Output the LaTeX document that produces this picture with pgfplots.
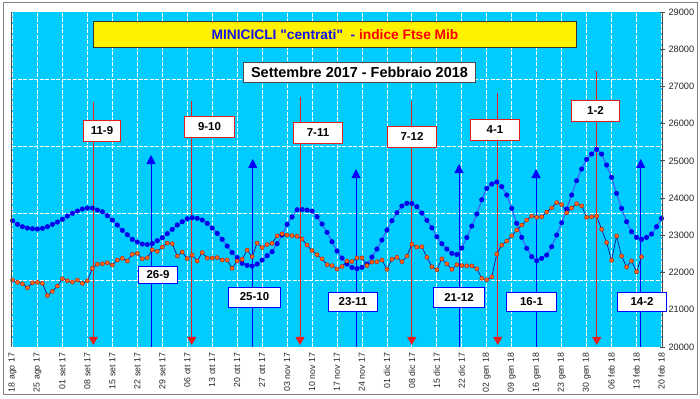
\documentclass[border=0pt]{standalone}
\usepackage{pgfplots}
\pgfplotsset{compat=1.18}
\usepackage{pgfplotstable}
\usetikzlibrary{arrows.meta}
\usepackage{fontspec}
\setmainfont{Liberation Sans}[Ligatures=TeXOff]
\definecolor{cyanbg}{RGB}{0,204,255}
\definecolor{blueline}{RGB}{60,100,255}
\definecolor{bluemark}{RGB}{0,0,235}
\definecolor{redfill}{RGB}{255,110,20}
\definecolor{reddraw}{RGB}{200,30,0}
\definecolor{navyline}{RGB}{20,20,140}
\definecolor{annored}{RGB}{230,30,30}
\definecolor{annoblue}{RGB}{0,0,255}
\definecolor{titleblue}{RGB}{20,20,230}

\pgfplotstableread{
i v
0 23392
1 23296
2 23231
3 23196
4 23177
5 23169
6 23188
7 23231
8 23296
9 23357
10 23430
11 23519
12 23591
13 23653
14 23707
15 23733
16 23733
17 23680
18 23634
19 23527
20 23411
21 23277
22 23134
23 23016
24 22892
25 22820
26 22766
27 22753
28 22780
29 22855
30 22935
31 23043
32 23161
33 23277
34 23365
35 23446
36 23473
37 23457
38 23411
39 23322
40 23196
41 23054
42 22892
43 22712
44 22538
45 22403
46 22247
47 22194
48 22175
49 22229
50 22336
51 22452
52 22559
53 22774
54 23008
55 23295
56 23492
57 23688
58 23695
59 23680
60 23653
61 23500
62 23304
63 23081
64 22828
65 22578
66 22390
67 22229
68 22135
69 22103
70 22140
71 22229
72 22417
73 22632
74 22874
75 23142
76 23392
77 23607
78 23787
79 23860
80 23855
81 23768
82 23599
83 23403
84 23201
85 22962
86 22774
87 22632
88 22516
89 22484
90 22659
91 22941
92 23250
93 23572
94 23956
95 24263
96 24378
97 24432
98 24306
99 24083
100 23725
101 23322
102 22946
103 22651
104 22425
105 22317
106 22382
107 22471
108 22694
109 23008
110 23338
111 23707
112 24083
113 24467
114 24781
115 25042
116 25184
117 25311
118 25184
119 24889
120 24558
121 24128
122 23725
123 23365
124 23097
125 22946
126 22892
127 22946
128 23035
129 23231
130 23457
}\bluedata

\pgfplotstableread{
i v
0 21799
1 21737
2 21699
3 21592
4 21726
5 21737
6 21710
7 21382
8 21495
9 21638
10 21834
11 21780
12 21745
13 21799
14 21710
15 21780
16 22113
17 22221
18 22237
19 22264
20 22202
21 22336
22 22382
23 22309
24 22489
25 22516
26 22371
27 22398
28 22613
29 22570
30 22685
31 22793
32 22774
33 22444
34 22551
35 22376
36 22471
37 22309
38 22538
39 22390
40 22390
41 22403
42 22336
43 22336
44 22113
45 22309
46 22355
47 22605
48 22425
49 22793
50 22672
51 22753
52 22785
53 22986
54 23040
55 23008
56 22995
57 22973
58 22900
59 22739
60 22591
61 22479
62 22368
63 22210
64 22188
65 22094
66 22162
67 22309
68 22296
69 22395
70 22395
71 22188
72 22282
73 22291
74 22336
75 22086
76 22358
77 22409
78 22291
79 22444
80 22758
81 22685
82 22694
83 22409
84 22156
85 22076
86 22368
87 22234
88 22086
89 22210
90 22188
91 22180
92 22180
93 22102
94 21844
95 21807
96 21887
97 22497
98 22739
99 22847
100 22989
101 23142
102 23277
103 23411
104 23518
105 23484
106 23500
107 23626
108 23739
109 23881
110 23827
111 23607
112 23733
113 23849
114 23793
115 23484
116 23500
117 23518
118 23164
119 22806
120 22328
121 22981
122 22444
123 22148
124 22315
125 22022
126 22425
}\reddata

\begin{document}
\begin{tikzpicture}[x=1bp,y=1bp]
\useasboundingbox (0,0) rectangle (700,398);
\fill[white] (0,0) rectangle (700,398);
\draw[black!50, line width=1bp] (3,4) rectangle (697,395);
\begin{axis}[
  at={(12bp,51bp)}, anchor=south west,
  width=650.5bp, height=335bp, scale only axis,
  xmin=-0.1, xmax=130.2, ymin=20000, ymax=29000,
  axis background/.style={fill=cyanbg},
  axis line style={draw=none},
  xtick={0,5,...,130},
  xticklabels={18 ago 17,25 ago 17,01 set 17,08 set 17,15 set 17,22 set 17,29 set 17,06 ott 17,13 ott 17,20 ott 17,27 ott 17,03 nov 17,10 nov 17,17 nov 17,24 nov 17,01 dic 17,08 dic 17,15 dic 17,22 dic 17,02 gen 18,09 gen 18,16 gen 18,23 gen 18,30 gen 18,06 feb 18,13 feb 18,20 feb 18},
  xticklabel style={rotate=90, anchor=east, font=\fontsize{8.8}{9}\selectfont, text=black!85},
  xtick style={draw=none},
  xmajorgrids=true,
  ytick={20000,21000,...,29000},
  scaled y ticks=false,
  ytick pos=right, yticklabel pos=right,
  yticklabel style={font=\fontsize{9.3}{10}\selectfont, text=black!85, /pgf/number format/fixed, /pgf/number format/1000 sep={}},
  ytick style={draw=black!70, line width=0.8bp},
  tick align=center, major tick length=5bp,
  extra y ticks={21800,23600,25400,27200},
  extra y tick labels={},
  extra y tick style={grid=major, ytick style={draw=none}},
  major grid style={white, line width=0.8bp, dash pattern=on 4bp off 1.5bp},
  /pgf/number format/.cd, 1000 sep={}, assume math mode=true,
]
% red cycle tops (down arrows)
\draw[annored, line width=0.9bp, -{Triangle[width=9bp,length=8bp]}] (axis cs:16.19,26582) -- (axis cs:16.19,20054);
\draw[annored, line width=0.9bp, -{Triangle[width=9bp,length=8bp]}] (axis cs:35.90,26609) -- (axis cs:35.90,20054);
\draw[annored, line width=0.9bp, -{Triangle[width=9bp,length=8bp]}] (axis cs:57.59,26716) -- (axis cs:57.59,20054);
\draw[annored, line width=0.9bp, -{Triangle[width=9bp,length=8bp]}] (axis cs:79.97,26609) -- (axis cs:79.97,20054);
\draw[annored, line width=0.9bp, -{Triangle[width=9bp,length=8bp]}] (axis cs:97.19,26824) -- (axis cs:97.19,20054);
\draw[annored, line width=0.9bp, -{Triangle[width=9bp,length=8bp]}] (axis cs:117.03,27415) -- (axis cs:117.03,20054);
% blue cycle lows (up arrows)
\draw[annoblue, line width=0.9bp, -{Triangle[width=9bp,length=9bp]}] (axis cs:27.74,20000) -- (axis cs:27.74,25158);
\draw[annoblue, line width=0.9bp, -{Triangle[width=9bp,length=9bp]}] (axis cs:48.12,20000) -- (axis cs:48.12,25051);
\draw[annoblue, line width=0.9bp, -{Triangle[width=9bp,length=9bp]}] (axis cs:68.81,20000) -- (axis cs:68.81,24782);
\draw[annoblue, line width=0.9bp, -{Triangle[width=9bp,length=9bp]}] (axis cs:89.44,20000) -- (axis cs:89.44,24916);
\draw[annoblue, line width=0.9bp, -{Triangle[width=9bp,length=9bp]}] (axis cs:104.87,20000) -- (axis cs:104.87,24782);
\draw[annoblue, line width=0.9bp, -{Triangle[width=9bp,length=9bp]}] (axis cs:125.84,20000) -- (axis cs:125.84,25051);
\addplot[blueline, line width=1.2bp, mark=*, mark size=2.3bp, mark options={fill=bluemark, draw=bluemark, line width=0.4bp}] table[x=i, y=v] {\bluedata};
\addplot[navyline, line width=0.7bp, mark=*, mark size=2bp, mark options={fill=redfill, draw=reddraw, line width=0.5bp}] table[x=i, y=v] {\reddata};
\end{axis}
% axis side lines
\draw[black!70, line width=1bp] (11.5,51) -- (11.5,386);
\draw[black!70, line width=1bp] (662.5,51) -- (662.5,386);
% title boxes
\node[draw=black!80, line width=1bp, fill=yellow, minimum width=484, minimum height=27, inner sep=0] at (335,363.5)
  {\fontsize{13.8}{14}\selectfont\bfseries\textcolor{titleblue}{MINICICLI "centrati"\ \ -} \textcolor{red}{indice Ftse Mib}};
\node[draw=black!70, line width=1bp, fill=white, minimum width=233, minimum height=21, inner sep=0] at (359.5,325.5)
  {\fontsize{14.5}{15}\selectfont\bfseries Settembre 2017 - Febbraio 2018};
% red labels
\tikzset{rbox/.style={draw=annored, line width=0.9bp, fill=white, inner sep=0, minimum height=21, font=\fontsize{11.5}{12}\selectfont\bfseries},
         bbox/.style={draw=annoblue, line width=0.9bp, fill=white, inner sep=0, minimum height=19, font=\fontsize{11.5}{12}\selectfont\bfseries}}
\node[rbox, minimum width=38] at (102,267.5) {11-9};
\node[rbox, minimum width=51] at (209.5,271) {9-10};
\node[rbox, minimum width=50] at (318,265.5) {7-11};
\node[rbox, minimum width=50] at (412,261.5) {7-12};
\node[rbox, minimum width=50] at (495,268) {4-1};
\node[rbox, minimum width=49] at (595.5,287.5) {1-2};
% blue labels
\node[bbox, minimum width=40, minimum height=17] at (158,123.5) {26-9};
\node[bbox, minimum width=53, minimum height=20] at (254.5,101) {25-10};
\node[bbox, minimum width=50] at (353,96.5) {23-11};
\node[bbox, minimum width=52, minimum height=20] at (459,101) {21-12};
\node[bbox, minimum width=51] at (531.5,96.5) {16-1};
\node[bbox, minimum width=50] at (642,96.5) {14-2};
\end{tikzpicture}
\end{document}
